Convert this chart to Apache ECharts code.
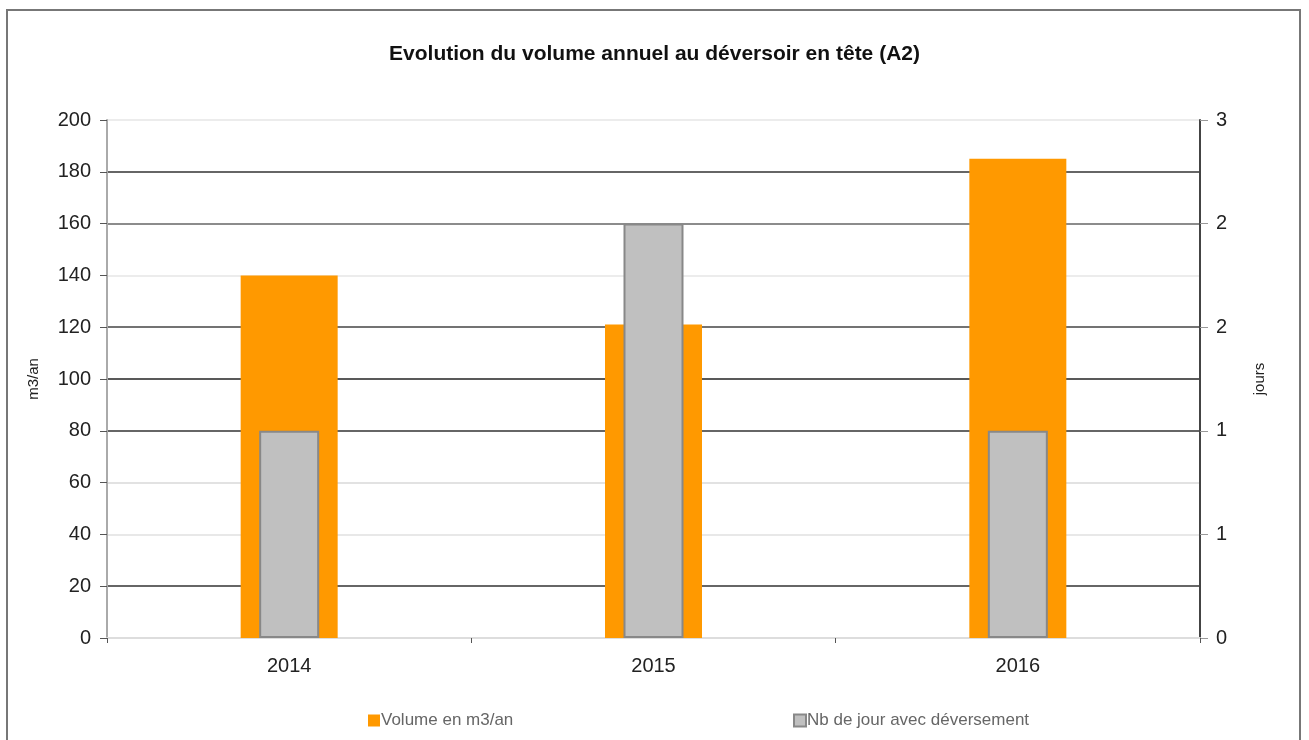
<!DOCTYPE html>
<html>
<head>
<meta charset="utf-8">
<script src="https://cdn.jsdelivr.net/npm/echarts@6/dist/echarts.min.js"></script>
<style>
  html, body { margin: 0; padding: 0; background: #fff; }
  #chart { width: 1309px; height: 740px; }
</style>
</head>
<body>
<div id="chart"></div>
<script>
// données
const years = ["2014", "2015", "2016"];
const volume = [140, 121, 185];      // m3/an
const nbJours = [1, 2, 1];           // jours
const leftTicks = [0, 20, 40, 60, 80, 100, 120, 140, 160, 180, 200];

// couleurs des lignes de grille (scan : certaines plus foncées)
const gridColors = ["#e6e6e6", "#333", "#e0e0e0", "#d8d8d8", "#333", "#222", "#444", "#e6e6e6", "#666", "#333", "#e6e6e6"];

const chart = echarts.init(document.getElementById("chart"));
const font = "Liberation Sans, Arial, sans-serif";

chart.setOption({
  animation: false,
  backgroundColor: "#fff",
  title: {
    text: "Evolution du volume annuel au déversoir en tête (A2)",
    left: "center",
    top: 39,
    textStyle: { fontFamily: font, fontSize: 21, fontWeight: "bold", color: "#111" }
  },
  graphic: [{
    type: "rect",
    shape: { x: 7, y: 10, width: 1293, height: 740 },
    style: { fill: "none", stroke: "#777", lineWidth: 2 },
    silent: true
  }],
  legend: [
    {
      data: ["Volume en m3/an"],
      left: 363, top: 707,
      itemWidth: 12, itemHeight: 12, itemGap: 4,
      icon: "rect",
      textStyle: { fontFamily: font, fontSize: 17, color: "#666", padding: [0, 0, 0, -4] }
    },
    {
      data: ["Nb de jour avec déversement"],
      left: 788, top: 707,
      itemWidth: 12, itemHeight: 12,
      icon: "rect",
      textStyle: { fontFamily: font, fontSize: 17, color: "#666", padding: [0, 0, 0, -4] }
    }
  ],
  grid: { left: 107, right: 109, top: 120, bottom: 102 },
  xAxis: [
    {
      type: "category",
      data: years,
      axisLine: { lineStyle: { color: "#ddd", width: 2 } },
      axisTick: { show: true, length: 5, lineStyle: { color: "#555" } },
      axisLabel: { fontFamily: font, fontSize: 20, color: "#222", margin: 18 }
    },
    { type: "category", data: years, show: false }
  ],
  yAxis: [
    {
      type: "value",
      min: 0, max: 200, interval: 20,
      name: "m3/an",
      nameLocation: "middle",
      nameGap: 66,
      nameTextStyle: { fontFamily: font, fontSize: 15, color: "#222" },
      axisLine: { show: true, lineStyle: { color: "#aaa", width: 2 } },
      axisTick: { show: true, length: 7, lineStyle: { color: "#555" } },
      axisLabel: { fontFamily: font, fontSize: 20, color: "#222", margin: 16 },
      splitLine: { show: true, lineStyle: { color: gridColors, width: 1.5 } }
    },
    {
      type: "value",
      min: 0, max: 2.5, interval: 0.5,
      name: "jours",
      nameLocation: "middle",
      nameGap: 52,
      nameRotate: 90,
      nameTextStyle: { fontFamily: font, fontSize: 15, color: "#222" },
      axisLine: { show: true, lineStyle: { color: "#444", width: 2 } },
      axisTick: { show: true, length: 8, lineStyle: { color: "#999" } },
      axisLabel: {
        fontFamily: font, fontSize: 20, color: "#222", margin: 16,
        formatter: v => String(Math.round(v))
      },
      splitLine: { show: false }
    }
  ],
  series: [
    {
      name: "Volume en m3/an",
      type: "bar",
      data: volume,
      xAxisIndex: 0,
      yAxisIndex: 0,
      barWidth: 97,
      itemStyle: { color: "#ff9900" }
    },
    {
      name: "Nb de jour avec déversement",
      type: "bar",
      data: nbJours,
      xAxisIndex: 1,
      yAxisIndex: 1,
      barWidth: 60,
      itemStyle: { color: "#c0c0c0", borderColor: "#888", borderWidth: 2 }
    }
  ]
});
</script>
</body>
</html>
